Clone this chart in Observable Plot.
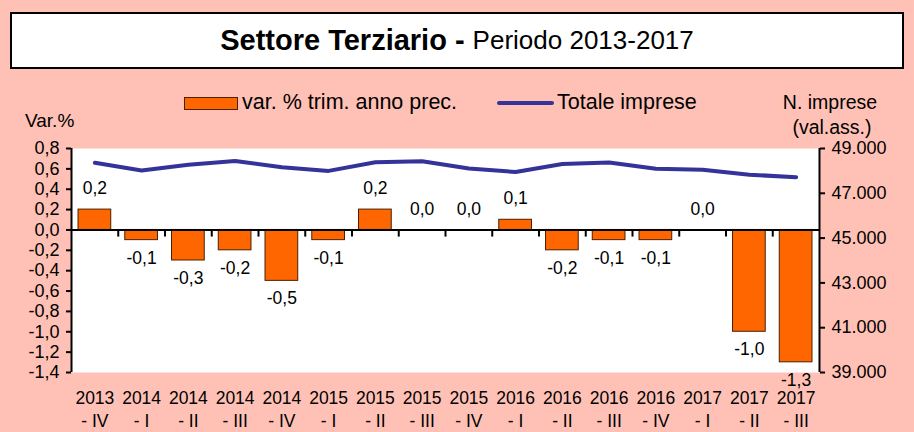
<!DOCTYPE html>
<html><head><meta charset="utf-8">
<script src="https://cdn.jsdelivr.net/npm/d3@7"></script>
<script src="https://cdn.jsdelivr.net/npm/@observablehq/plot@0.6"></script>
<style>
body{margin:0;background:#ffc1b5;font-family:"Liberation Sans",Arial,Helvetica,sans-serif;color:#000;}
#wrap{position:relative;width:914px;height:432px;overflow:hidden;}
#head{position:relative;width:914px;height:140px;}
#titlebox{position:absolute;left:10px;top:12px;width:890px;height:53px;border:2px solid #000;background:#fff;display:flex;align-items:center;justify-content:center;white-space:nowrap;}
#titlebox .b{font-weight:bold;font-size:29px;}
#titlebox .r{font-size:26px;margin-left:8px;}
.abs{position:absolute;white-space:nowrap;line-height:1;}
#sw1{left:184px;top:97px;width:52px;height:11px;background:#ff6600;border:1px solid #4a2000;}
#sw2{left:497px;top:101px;width:57px;height:4px;background:#333399;border-radius:2px;}
.lg{font-size:21.5px;}
#chart svg{display:block;}
</style></head>
<body><div id="wrap">
<div id="head">
  <div id="titlebox"><span class="b">Settore Terziario -</span><span class="r">Periodo 2013-2017</span></div>
  <div class="abs" id="sw1"></div>
  <div class="abs lg" id="t1" style="left:242px;top:92px;">var. % trim. anno prec.</div>
  <div class="abs" id="sw2"></div>
  <div class="abs lg" id="t2" style="left:557px;top:92px;">Totale imprese</div>
  <div class="abs" style="left:25px;top:111px;font-size:19px;">Var.%</div>
  <div class="abs" style="left:770px;top:93px;width:120px;text-align:center;font-size:19.5px;">N. imprese</div>
  <div class="abs" style="left:772px;top:118px;width:120px;text-align:center;font-size:19.5px;">(val.ass.)</div>
</div>
<div id="chart"></div>
</div>
<script>
const years = ["2013","2014","2014","2014","2014","2015","2015","2015","2015","2016","2016","2016","2016","2017","2017","2017"];
const quarters = ["IV","I","II","III","IV","I","II","III","IV","I","II","III","IV","I","II","III"];
const varPct = [0.2,-0.1,-0.3,-0.2,-0.5,-0.1,0.2,0.0,0.0,0.1,-0.2,-0.1,-0.1,0.0,-1.0,-1.3];
const totaleImprese = [48360,48020,48270,48440,48165,48000,48390,48430,48110,47950,48310,48375,48095,48050,47830,47720];
const leftTicks = [-1.4,-1.2,-1.0,-0.8,-0.6,-0.4,-0.2,0.0,0.2,0.4,0.6,0.8];
const rightTicks = [39000,41000,43000,45000,47000,49000];

const yMin = -1.4, yMax = 0.8, rMin = 39000, rMax = 49000;
const toY = v => yMin + (v - rMin) * (yMax - yMin) / (rMax - rMin);
const fromY = y => rMin + (y - yMin) * (rMax - rMin) / (yMax - yMin);
const it = d3.formatLocale({decimal: ",", thousands: ".", grouping: [3], currency: ["", "€"]});
const fmtInt = it.format(",.0f");
const fmtDec = d => d.toFixed(1).replace(".", ",").replace("-0,0","0,0");

const rows = years.map((y, i) => ({i, year: y, q: "- " + quarters[i], v: varPct[i], tot: totaleImprese[i]}));
const pos = rows.filter(d => d.v >= 0);
const neg = rows.filter(d => d.v < 0);

const plot = Plot.plot({
  width: 914, height: 292,
  marginTop: 8, marginBottom: 60, marginLeft: 71, marginRight: 95,
  style: {background: "transparent", fontFamily: "'Liberation Sans', Arial, sans-serif", fontSize: "18px", overflow: "visible"},
  x: {type: "linear", domain: [0, 16], axis: null},
  y: {domain: [yMin, yMax]},
  marks: [
    Plot.frame({fill: "white", stroke: "none"}),
    Plot.rect(rows.filter(d => d.v !== 0), {x1: d => d.i + 0.15, x2: d => d.i + 0.85, y1: 0, y2: d => d.v, fill: "#ff6600", stroke: "#4a2000", strokeWidth: 1}),
    Plot.ruleY([0], {stroke: "black", strokeWidth: 2}),
    Plot.ruleX(d3.range(1, 16), {x: d => d, y1: 0, y2: -0.07, stroke: "black", strokeWidth: 2}),
    Plot.ruleX([0, 16], {stroke: "black", strokeWidth: 2}),
    Plot.axisY({anchor: "left", ticks: leftTicks, tickFormat: fmtDec, tickSize: 5, tickPadding: 7, strokeWidth: 2, fontSize: 18, label: null}),
    Plot.axisY({anchor: "right", ticks: rightTicks.map(toY), tickFormat: d => fmtInt(Math.round(fromY(d))), tickSize: 5, tickPadding: 7, strokeWidth: 2, fontSize: 18, label: null}),
    Plot.line(rows, {x: d => d.i + 0.5, y: d => toY(d.tot), stroke: "#333399", strokeWidth: 4, strokeLinejoin: "round", strokeLinecap: "round"}),
    Plot.text(pos, {x: d => d.i + 0.5, y: d => d.v, text: d => fmtDec(d.v), dy: -21, fontSize: 17.5, fill: "black"}),
    Plot.text(neg, {x: d => d.i + 0.5, y: d => d.v, text: d => fmtDec(d.v), dy: 18, fontSize: 17.5, fill: "black"}),
    Plot.text(rows, {x: d => d.i + 0.5, frameAnchor: "bottom", text: d => d.year, dy: 31, fontSize: 17.5, fill: "black"}),
    Plot.text(rows, {x: d => d.i + 0.5, frameAnchor: "bottom", text: d => d.q, dy: 54, fontSize: 17.5, fill: "black"})
  ]
});
document.getElementById("chart").appendChild(plot);
</script>
</body></html>
